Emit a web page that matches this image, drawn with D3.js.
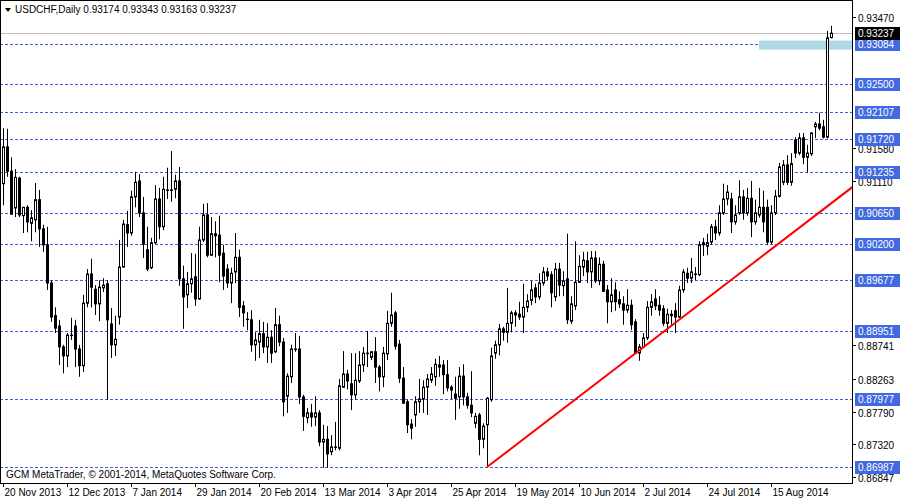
<!DOCTYPE html>
<html lang="en">
<head>
<meta charset="UTF-8">
<title>USDCHF Daily</title>
<script src="https://d3js.org/d3.v7.min.js"></script>
<style>
  body { margin: 0; background: #fff; }
  text { font-family: "Liberation Sans", Arial, sans-serif; font-size: 10px; }
</style>
</head>
<body>
<svg width="900" height="500"></svg>
<script>
// daily candles
const opens = [.9107,.9160,.9125,.9072,.9115,.9061,.9073,.9050,.9055,.9084,.9042,.9019,.8964,.8917,.8902,.8872,.8859,.8889,.8902,.8869,.8845,.8935,.8977,.8955,.8934,.8957,.8963,.8905,.8875,.8915,.8987,.9048,.9036,.9088,.9111,.9065,.9012,.8986,.9022,.9085,.9045,.9098,.9098,.9099,.9111,.8970,.8947,.8963,.8973,.8941,.9026,.9062,.9004,.9035,.9033,.9007,.8984,.8964,.8980,.9001,.8931,.8912,.8911,.8875,.8879,.8891,.8872,.8886,.8865,.8904,.8879,.8801,.8829,.8869,.8869,.8800,.8770,.8777,.8771,.8777,.8735,.8739,.8721,.8728,.8726,.8814,.8833,.8819,.8803,.8823,.8846,.8863,.8857,.8865,.8843,.8829,.8862,.8906,.8921,.8876,.8827,.8793,.8761,.8774,.8793,.8797,.8814,.8824,.8829,.8843,.8846,.8832,.8814,.8804,.8800,.8830,.8800,.8788,.8762,.8774,.8739,.8760,.8796,.8863,.8875,.8898,.8893,.8906,.8921,.8919,.8915,.8929,.8939,.8957,.8944,.8964,.8980,.8976,.8944,.8984,.8960,.8970,.8909,.8931,.8965,.8987,.8996,.8980,.9000,.8967,.8991,.8954,.8937,.8954,.8940,.8934,.8925,.8932,.8908,.8863,.8872,.8885,.8929,.8941,.8932,.8927,.8906,.8917,.8924,.8915,.8954,.8978,.8971,.8977,.8976,.9022,.9017,.9023,.9045,.9036,.9065,.9085,.9085,.9052,.9065,.9088,.9065,.9086,.9052,.9062,.9073,.9073,.9023,.9065,.9089,.9109,.9134,.9109,.9170,.9151,.9173,.9145,.9150,.9189,.9193,.9189,.9174,.93174];
const highs = [.9187,.9186,.9145,.9128,.9117,.9073,.9076,.9069,.9108,.9098,.9048,.9045,.8968,.8929,.8911,.8875,.8892,.8914,.8911,.8875,.8947,.8984,.8999,.8961,.8968,.8971,.8968,.8928,.8917,.9026,.9055,.9068,.9097,.9124,.9121,.9088,.9045,.9029,.9105,.9101,.9117,.9130,.9154,.9120,.9131,.8989,.8980,.9007,.9006,.9045,.9078,.9079,.9059,.9053,.9061,.9019,.8991,.8986,.9036,.9012,.8938,.8922,.8925,.8893,.8911,.8908,.8906,.8896,.8928,.8917,.8885,.8834,.8875,.8892,.8888,.8803,.8784,.8790,.8801,.8781,.8760,.8758,.8745,.8764,.8826,.8866,.8839,.8863,.8863,.8866,.8872,.8895,.8866,.8886,.8846,.8872,.8924,.8950,.8924,.8882,.8843,.8796,.8768,.8801,.8826,.8824,.8833,.8843,.8855,.8859,.8853,.8853,.8817,.8829,.8843,.8847,.8806,.8837,.8777,.8777,.8762,.8800,.8871,.8881,.8905,.8901,.8957,.8924,.8925,.8937,.8963,.8948,.8967,.8963,.8978,.8987,.8986,.8981,.8993,.8993,.8981,.9035,.8945,.9024,.9004,.9009,.9009,.9010,.9010,.9001,.8996,.8961,.8971,.8965,.8952,.8945,.8955,.8940,.8912,.8876,.8892,.8938,.8948,.8955,.8945,.8932,.8927,.8925,.8935,.8960,.8984,.8986,.9000,.8987,.9024,.9029,.9035,.9049,.9055,.9076,.9107,.9105,.9094,.9076,.9112,.9098,.9101,.9111,.9084,.9101,.9097,.9084,.9076,.9098,.9137,.9141,.9148,.9151,.9174,.9180,.9180,.9163,.9181,.9196,.9209,.9199,.9327,.93343];
const lows = [.9076,.9117,.9063,.9059,.9059,.9036,.9037,.9024,.9037,.9016,.9009,.8954,.8908,.8892,.8846,.8834,.8843,.8882,.8843,.8829,.8836,.8929,.8929,.8918,.8909,.8951,.8796,.8856,.8859,.8904,.8986,.9016,.9032,.9073,.9059,.9000,.8981,.8984,.9020,.9027,.9040,.9085,.9081,.9086,.8960,.8898,.8928,.8950,.8931,.8940,.9023,.9001,.9003,.9001,.8965,.8954,.8957,.8935,.8964,.8915,.8901,.8896,.8865,.8852,.8856,.8863,.8849,.8849,.8863,.8873,.8772,.8777,.8820,.8865,.8790,.8751,.8762,.8757,.8758,.8729,.8698,.8698,.8716,.8723,.8723,.8813,.8811,.8781,.8796,.8820,.8836,.8843,.8853,.8820,.8808,.8814,.8853,.8901,.8868,.8820,.8790,.8748,.8739,.8757,.8777,.8777,.8774,.8820,.8816,.8829,.8804,.8808,.8797,.8767,.8783,.8788,.8783,.8771,.8755,.8716,.8726,.8699,.8793,.8855,.8860,.8881,.8878,.8893,.8901,.8911,.8892,.8922,.8932,.8935,.8940,.8960,.8968,.8929,.8938,.8945,.8945,.8905,.8905,.8925,.8964,.8974,.8964,.8957,.8964,.8961,.8951,.8906,.8922,.8924,.8928,.8904,.8921,.8896,.8862,.8852,.8871,.8882,.8917,.8925,.8917,.8902,.8892,.8904,.8892,.8914,.8950,.8964,.8964,.8968,.8974,.9003,.9004,.9019,.9026,.9032,.9062,.9076,.9036,.9048,.9062,.9055,.9061,.9030,.9048,.9058,.9037,.9019,.9020,.9062,.9087,.9105,.9105,.9104,.9144,.9148,.9135,.9123,.9147,.9173,.9184,.9172,.9172,.93163];
const closes = [.9160,.9125,.9063,.9116,.9062,.9073,.9052,.9058,.9084,.9042,.9019,.8964,.8915,.8899,.8872,.8859,.8889,.8889,.8869,.8845,.8935,.8977,.8958,.8934,.8958,.8961,.8911,.8875,.8883,.8987,.9049,.9036,.9088,.9109,.9065,.9020,.8984,.9022,.9085,.9045,.9099,.9098,.9098,.9111,.8970,.8944,.8963,.8970,.8941,.9026,.9062,.9004,.9035,.9032,.9004,.8974,.8964,.8978,.9001,.8929,.8921,.8912,.8875,.8882,.8891,.8872,.8886,.8863,.8904,.8879,.8793,.8830,.8869,.8869,.8800,.8772,.8777,.8771,.8777,.8735,.8739,.8718,.8728,.8728,.8816,.8833,.8823,.8803,.8824,.8846,.8863,.8863,.8865,.8843,.8829,.8863,.8906,.8918,.8873,.8827,.8791,.8760,.8755,.8793,.8797,.8814,.8826,.8833,.8847,.8846,.8832,.8813,.8810,.8798,.8830,.8800,.8788,.8777,.8772,.8739,.8758,.8798,.8859,.8875,.8898,.8893,.8906,.8921,.8918,.8915,.8929,.8938,.8954,.8944,.8964,.8980,.8974,.8950,.8984,.8961,.8967,.8911,.8934,.8965,.8988,.8997,.8980,.9000,.8967,.8991,.8952,.8937,.8947,.8937,.8934,.8925,.8932,.8904,.8863,.8872,.8885,.8929,.8937,.8931,.8925,.8906,.8919,.8919,.8915,.8954,.8980,.8971,.8980,.8977,.9019,.9019,.9022,.9045,.9036,.9065,.9085,.9095,.9052,.9062,.9088,.9065,.9086,.9052,.9065,.9073,.9052,.9023,.9065,.9089,.9131,.9134,.9109,.9136,.9151,.9173,.9145,.9151,.9180,.9193,.9187,.9174,.9317,.93237];

const dateLabels = ["20 Nov 2013","12 Dec 2013","7 Jan 2014","29 Jan 2014","20 Feb 2014","13 Mar 2014","3 Apr 2014","25 Apr 2014","19 May 2014","10 Jun 2014","2 Jul 2014","24 Jul 2014","15 Aug 2014"];
const dateBars = [0,16,32,48,64,80,96,112,128,144,160,176,192];
const priceTicks = [0.93470,0.91580,0.91110,0.88741,0.88263,0.87790,0.87320,0.86847];
const levels = [0.93084,0.92500,0.92107,0.91720,0.91235,0.90650,0.90200,0.89677,0.88951,0.87977,0.86987];
const zone = [0.93000, 0.93130];
const zoneBars = [189, 213];
const lastPrice = 0.93237;
const trendBars = [121, 213];
const trendPrices = [0.8699, 0.9105];

const svg = d3.select('svg');
const plotRight = 852, plotBottom = 483;
const n = Math.min(opens.length, highs.length, lows.length, closes.length);
const candles = d3.range(n).map(i => {
  const o = opens[i], c = closes[i];
  return {i, o, c, h: Math.max(highs[i], o, c), l: Math.min(lows[i], o, c)};
});

const x = d3.scaleLinear().domain([0, 207]).range([3, 831]);
const y = d3.scaleLinear().domain([0.86847, 0.93470]).range([477, 17]);

svg.append('clipPath').attr('id', 'plot')
  .append('rect').attr('x', 1).attr('y', 1).attr('width', plotRight - 1).attr('height', plotBottom - 1);

const plot = svg.append('g').attr('clip-path', 'url(#plot)');

// support / resistance levels
plot.selectAll('.lvl').data(levels).enter().append('line')
  .attr('x1', 0).attr('x2', plotRight)
  .attr('y1', d => Math.round(y(d)) + 0.5).attr('y2', d => Math.round(y(d)) + 0.5)
  .attr('stroke', '#3b5fe0').attr('stroke-dasharray', '3,2');

plot.append('rect')
  .attr('x', x(zoneBars[0])).attr('width', x(zoneBars[1]) - x(zoneBars[0]))
  .attr('y', y(zone[1])).attr('height', y(zone[0]) - y(zone[1]))
  .attr('fill', '#add8e6');

// bid line
plot.append('line').attr('x1', 0).attr('x2', plotRight)
  .attr('y1', Math.round(y(lastPrice)) + 0.5).attr('y2', Math.round(y(lastPrice)) + 0.5)
  .attr('stroke', '#c0c0c0');

// candles
const g = plot.selectAll('.c').data(candles).enter().append('g');
g.append('line')
  .attr('x1', d => Math.round(x(d.i)) + 0.5).attr('x2', d => Math.round(x(d.i)) + 0.5)
  .attr('y1', d => y(d.h)).attr('y2', d => y(d.l))
  .attr('stroke', '#000');
g.append('rect')
  .attr('x', d => Math.round(x(d.i)) - 0.5).attr('width', 2)
  .attr('y', d => y(Math.max(d.o, d.c))).attr('height', d => Math.max(0.5, Math.abs(y(d.o) - y(d.c))))
  .attr('fill', d => d.c >= d.o ? '#fff' : '#000')
  .attr('stroke', '#000').attr('stroke-width', 1);

// trend line
plot.append('line')
  .attr('x1', x(trendBars[0])).attr('y1', y(trendPrices[0]))
  .attr('x2', x(trendBars[1])).attr('y2', y(trendPrices[1]))
  .attr('stroke', '#ff0000').attr('stroke-width', 2);

// frame
svg.append('rect').attr('x', 0.5).attr('y', 0.5).attr('width', plotRight).attr('height', plotBottom)
  .attr('fill', 'none').attr('stroke', '#000');

// right price axis
svg.selectAll('.tk').data(priceTicks).enter().append('g').each(function(d) {
  const yy = Math.round(y(d)) + 0.5;
  d3.select(this).append('line').attr('x1', plotRight).attr('x2', plotRight + 4)
    .attr('y1', yy).attr('y2', yy).attr('stroke', '#000');
  d3.select(this).append('text').attr('x', 858).attr('y', yy + 4).text(d3.format('.5f')(d));
});

svg.selectAll('.lb').data(levels).enter().append('g').each(function(d) {
  const yy = Math.round(y(d));
  d3.select(this).append('rect').attr('x', plotRight + 3).attr('y', yy - 6)
    .attr('width', 45).attr('height', 13).attr('fill', '#4169e1');
  d3.select(this).append('text').attr('x', 858).attr('y', yy + 4).attr('fill', '#fff')
    .text(d3.format('.5f')(d));
});

const ly = Math.round(y(lastPrice));
svg.append('rect').attr('x', plotRight + 3).attr('y', ly - 6).attr('width', 45).attr('height', 13).attr('fill', '#000');
svg.append('text').attr('x', 858).attr('y', ly + 4).attr('fill', '#fff').text(d3.format('.5f')(lastPrice));

// time axis
dateBars.forEach((b, k) => {
  const xx = Math.round(x(b)) + 0.5;
  svg.append('line').attr('x1', xx).attr('x2', xx).attr('y1', plotBottom).attr('y2', plotBottom + 4).attr('stroke', '#000');
  svg.append('text').attr('x', xx + 1).attr('y', 496).text(dateLabels[k]);
});

// header + watermark
svg.append('path').attr('d', 'M5,8 L11,8 L8,12 Z').attr('fill', '#000');
svg.append('text').attr('x', 15).attr('y', 13)
  .text('USDCHF,Daily  ' + [opens[n-1], highs[n-1], lows[n-1], closes[n-1]].map(d3.format('.5f')).join(' '));
svg.append('text').attr('x', 6).attr('y', 478).text('GCM MetaTrader, \u00a9 2001-2014, MetaQuotes Software Corp.');
</script>
</body>
</html>
